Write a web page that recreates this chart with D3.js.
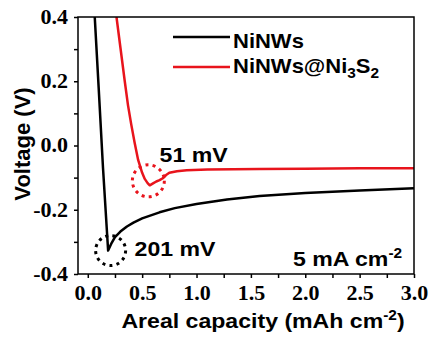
<!DOCTYPE html>
<html>
<head>
<meta charset="utf-8">
<script src="https://cdn.jsdelivr.net/npm/d3@7"></script>
<style>
  body { margin: 0; background: #fff; }
  svg { display: block; }
</style>
</head>
<body>
<div class="chart"></div>
<script>
// data
var niCap = [0.064, 0.10, 0.14, 0.187, 0.22, 0.25, 0.30, 0.36, 0.42, 0.50, 0.66, 0.80, 1.0, 1.28, 1.58, 2.0, 2.5, 3.0];
var niV   = [0.40, 0.18, -0.07, -0.327, -0.303, -0.285, -0.268, -0.252, -0.240, -0.227, -0.208, -0.195, -0.182, -0.168, -0.157, -0.148, -0.140, -0.133];

var nsCap = [0.264, 0.30, 0.34, 0.37, 0.40, 0.43, 0.463, 0.50, 0.524, 0.55, 0.57, 0.60, 0.63, 0.66, 0.69, 0.72, 0.75, 0.82, 0.91, 1.1, 1.58, 2.0, 2.5, 3.0];
var nsV   = [0.40, 0.305, 0.20, 0.125, 0.065, 0.01, -0.045, -0.085, -0.104, -0.117, -0.124, -0.118, -0.112, -0.108, -0.102, -0.092, -0.085, -0.080, -0.077, -0.075, -0.073, -0.072, -0.071, -0.071];

var xTicks = [0, 0.5, 1.0, 1.5, 2.0, 2.5, 3.0];
var xMinor = [0.25, 0.75, 1.25, 1.75, 2.25, 2.75];
var yTicks = [-0.4, -0.2, 0.0, 0.2, 0.4];
var yMinor = [-0.3, -0.1, 0.1, 0.3];

var svgWidth = 433;
var svgHeight = 342;
var margin = { top: 17, right: 19, bottom: 68, left: 78 };
var width = svgWidth - margin.left - margin.right;
var height = svgHeight - margin.top - margin.bottom;

// the reference text is a bit wider than it is tall
var sx = 1.1;

var svg = d3.select(".chart")
  .append("svg")
  .attr("width", svgWidth)
  .attr("height", svgHeight);

var chartGroup = svg.append("g")
  .attr("transform", `translate(${margin.left}, ${margin.top})`);

var xScale = d3.scaleLinear().domain([-0.09, 3.0]).range([0, width]);
var yScale = d3.scaleLinear().domain([-0.4, 0.4]).range([height, 0]);

var tickFont = "'Liberation Serif', 'Times New Roman', serif";
var sansFont = "'Liberation Sans', Arial, sans-serif";

// place a text at x,y and stretch it horizontally
function label(parent, x, y, size) {
  return parent.append("text")
    .attr("transform", `translate(${x}, ${y}) scale(${sx}, 1)`)
    .attr("font-family", sansFont)
    .attr("font-weight", "bold")
    .attr("font-size", size + "px")
    .attr("fill", "#000");
}

// minor ticks first
chartGroup.append("g")
  .attr("transform", `translate(0, ${height})`)
  .call(d3.axisBottom(xScale).tickValues(xMinor).tickSize(4).tickFormat(""))
  .call(g => g.select(".domain").remove());
chartGroup.append("g")
  .call(d3.axisLeft(yScale).tickValues(yMinor).tickSize(4).tickFormat(""))
  .call(g => g.select(".domain").remove());

// major axes
var xAxis = chartGroup.append("g")
  .attr("transform", `translate(0, ${height})`)
  .call(d3.axisBottom(xScale).tickValues(xTicks).tickSize(4).tickPadding(8).tickFormat(d3.format(".1f")));
var yAxis = chartGroup.append("g")
  .call(d3.axisLeft(yScale).tickValues(yTicks).tickSize(4).tickPadding(5).tickFormat(d => d3.format(".1f")(d).replace("−", "-")));

[xAxis, yAxis].forEach(function(ax) {
  ax.selectAll("text")
    .attr("font-family", tickFont)
    .attr("font-weight", "bold")
    .attr("font-size", "20px")
    .attr("fill", "#000")
    .attr("transform", `scale(${sx}, 1)`);
  ax.select(".domain").remove();
});
chartGroup.selectAll(".tick line").attr("stroke-width", 1.5);

// clip
svg.append("defs").append("clipPath").attr("id", "clip")
  .append("rect").attr("width", width).attr("height", height);

var plot = chartGroup.append("g").attr("clip-path", "url(#clip)");

var line = d3.line()
  .x(d => xScale(d[0]))
  .y(d => yScale(d[1]));

var niData = niCap.map((c, i) => [c, niV[i]]);
var nsData = nsCap.map((c, i) => [c, nsV[i]]);

plot.append("path")
  .datum(niData)
  .attr("d", line)
  .attr("fill", "none")
  .attr("stroke", "#000")
  .attr("stroke-width", 2.5)
  .attr("stroke-linejoin", "round");

plot.append("path")
  .datum(nsData)
  .attr("d", line)
  .attr("fill", "none")
  .attr("stroke", "#e8141c")
  .attr("stroke-width", 2.5)
  .attr("stroke-linejoin", "round");

// dotted circles
chartGroup.append("circle")
  .attr("cx", xScale(0.21))
  .attr("cy", yScale(-0.327))
  .attr("r", 15)
  .attr("fill", "none")
  .attr("stroke", "#000")
  .attr("stroke-width", 3)
  .attr("stroke-dasharray", "3,4.2");

chartGroup.append("circle")
  .attr("cx", xScale(0.557))
  .attr("cy", yScale(-0.11))
  .attr("r", 16)
  .attr("fill", "none")
  .attr("stroke", "#e8141c")
  .attr("stroke-width", 3)
  .attr("stroke-dasharray", "3,4.2");

// frame
chartGroup.append("rect")
  .attr("width", width)
  .attr("height", height)
  .attr("fill", "none")
  .attr("stroke", "#000")
  .attr("stroke-width", 1.5);

// annotations
label(chartGroup, xScale(0.66), yScale(-0.05), 21).text("51 mV");
label(chartGroup, xScale(0.43), yScale(-0.345), 21).text("201 mV");

var rate = label(chartGroup, 215, 249, 21);
rate.append("tspan").text("5 mA cm");
rate.append("tspan").attr("dy", -8).attr("font-size", "14px").text("-2");

// legend
var legend = chartGroup.append("g");
legend.append("line")
  .attr("x1", 95).attr("x2", 152).attr("y1", 20).attr("y2", 20)
  .attr("stroke", "#000").attr("stroke-width", 2.5);
label(legend, 155, 31, 20).text("NiNWs");
legend.append("line")
  .attr("x1", 95).attr("x2", 152).attr("y1", 50).attr("y2", 50)
  .attr("stroke", "#e8141c").attr("stroke-width", 2.5);
var lt = label(legend, 155, 56, 20);
lt.append("tspan").text("NiNWs@Ni");
lt.append("tspan").attr("dy", 5).attr("font-size", "14px").text("3");
lt.append("tspan").attr("dy", -5).text("S");
lt.append("tspan").attr("dy", 5).attr("font-size", "14px").text("2");

// X label
var xl = label(svg, 263, 328, 21).attr("text-anchor", "middle");
xl.append("tspan").text("Areal capacity (mAh cm");
xl.append("tspan").attr("dy", -8).attr("font-size", "14px").text("-2");
xl.append("tspan").attr("dy", 8).text(")");

// Y label
svg.append("text")
  .attr("text-anchor", "middle")
  .attr("transform", "translate(30, 144) rotate(-90)")
  .attr("font-family", sansFont)
  .attr("font-weight", "bold")
  .attr("font-size", "22px")
  .text("Voltage (V)");
</script>
</body>
</html>
